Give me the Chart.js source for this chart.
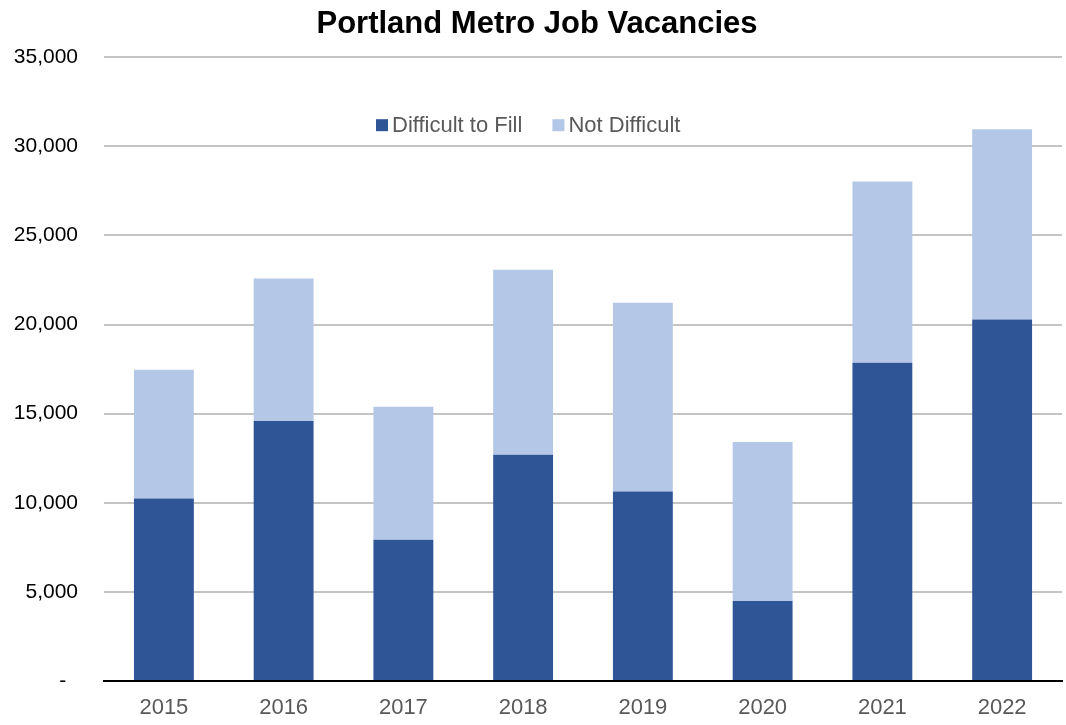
<!DOCTYPE html>
<html>
<head>
<meta charset="utf-8">
<script src="https://cdn.jsdelivr.net/npm/chart.js@4/dist/chart.umd.min.js"></script>
<style>
  html, body { margin: 0; padding: 0; background: #ffffff; }
  #wrap { width: 1066px; height: 725px; position: relative; }
</style>
</head>
<body>
<div id="wrap"><canvas id="c" width="1066" height="725"></canvas></div>
<script>
const chartTitle = 'Portland Metro Job Vacancies';
const categories = ['2015', '2016', '2017', '2018', '2019', '2020', '2021', '2022'];
const seriesNames = ['Difficult to Fill', 'Not Difficult'];
const difficultToFill = [10240, 14590, 7920, 12700, 10630, 4490, 17850, 20280];
const notDifficult = [7220, 7990, 7470, 10370, 10590, 8920, 10170, 10680];
const yMax = 35000;
const yStep = 5000;

const FONT = "'Liberation Sans', Arial, sans-serif";
const DARK = '#2F5597';
const LIGHT = '#B4C7E7';

const innerLegend = {
  id: 'innerLegend',
  afterDraw(chart) {
    const ctx = chart.ctx;
    const area = chart.chartArea;
    ctx.save();
    ctx.font = '22px ' + FONT;
    ctx.textBaseline = 'middle';
    ctx.textAlign = 'left';
    const colors = [DARK, LIGHT];
    const y = area.top + 68;
    let x = area.left + 272;
    seriesNames.forEach((name, i) => {
      ctx.fillStyle = colors[i];
      ctx.fillRect(x, y - 6, 12, 12);
      x += 16;
      ctx.fillStyle = '#595959';
      ctx.fillText(name, x, y + 1);
      x += ctx.measureText(name).width + 30;
    });
    ctx.restore();
  }
};

new Chart(document.getElementById('c'), {
  type: 'bar',
  data: {
    labels: categories,
    datasets: [
      { label: seriesNames[0], data: difficultToFill, backgroundColor: DARK, borderWidth: 0 },
      { label: seriesNames[1], data: notDifficult, backgroundColor: LIGHT, borderWidth: 0 }
    ]
  },
  options: {
    responsive: false,
    animation: false,
    layout: { padding: { left: 12, right: 4, top: 0, bottom: 0 } },
    datasets: { bar: { categoryPercentage: 1.0, barPercentage: 0.5 } },
    plugins: {
      legend: { display: false },
      tooltip: { enabled: false },
      title: {
        display: true,
        text: chartTitle,
        color: '#000000',
        font: { family: FONT, size: 31, weight: 'bold' },
        padding: { top: 6, bottom: 14 }
      }
    },
    scales: {
      x: {
        stacked: true,
        grid: { display: false, drawTicks: false },
        border: { display: true, color: '#000000', width: 2 },
        ticks: { color: '#595959', font: { family: FONT, size: 22 }, padding: 14 },
        afterFit(scale) { scale.height = 44; }
      },
      y: {
        stacked: true,
        min: 0,
        max: yMax,
        grid: { color: '#c4c4c4', lineWidth: 2, drawTicks: false },
        border: { display: false },
        ticks: {
          stepSize: yStep,
          color: '#000000',
          font: { family: FONT, size: 21 },
          padding: 26,
          callback: (v) => v === 0 ? '-  ' : v.toLocaleString('en-US')
        },
        afterFit(scale) { scale.width = 92; }
      }
    }
  },
  plugins: [innerLegend]
});
</script>
</body>
</html>
